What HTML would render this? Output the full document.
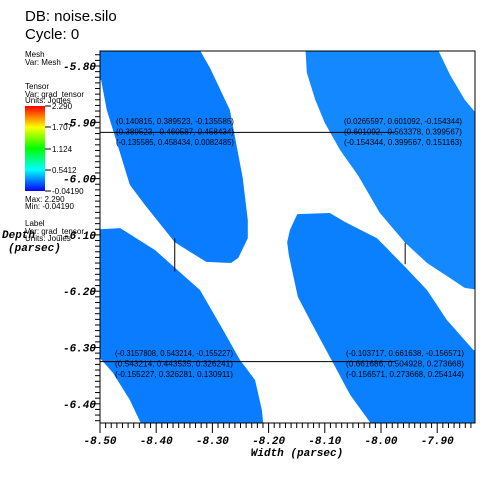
<!DOCTYPE html>
<html><head><meta charset="utf-8"><style>
html,body{margin:0;padding:0;background:#fff;}
svg{display:block;}
.lg{font-family:"Liberation Sans",sans-serif;font-size:8px;fill:#000;}
.tk{font-family:"Liberation Mono",monospace;font-size:11px;font-weight:bold;font-style:italic;fill:#000;}
.lab{font-family:"Liberation Sans",sans-serif;font-size:8.5px;fill:#000;}
</style></head><body>
<svg id="chart" width="500" height="500" viewBox="0 0 500 500">
<defs>
<clipPath id="clip"><rect x="100" y="51" width="375" height="372"/></clipPath>
<linearGradient id="cb" x1="0" y1="1" x2="0" y2="0">
<stop offset="0" stop-color="#0000ff"/><stop offset="0.25" stop-color="#00ffff"/>
<stop offset="0.5" stop-color="#00ff00"/><stop offset="0.75" stop-color="#ffff00"/>
<stop offset="1" stop-color="#ff0000"/></linearGradient>
</defs>
<text x="25" y="21" font-family="Liberation Sans,sans-serif" font-size="15">DB: noise.silo</text>
<text x="25" y="39" font-family="Liberation Sans,sans-serif" font-size="15">Cycle: 0</text>
<g>
<text class="lg" x="25" y="57">Mesh</text><text class="lg" x="25" y="65">Var: Mesh</text></g>
<g>
<text class="lg" x="25" y="89">Tensor</text><text class="lg" x="25" y="97">Var: grad_tensor</text><text class="lg" x="25" y="103">Units: Joules</text>
<rect x="25" y="106" width="20" height="85" fill="url(#cb)"/>
<g stroke="#000"><line x1="45" y1="106" x2="51" y2="106"/><line x1="45" y1="127" x2="51" y2="127"/><line x1="45" y1="149" x2="51" y2="149"/><line x1="45" y1="170" x2="51" y2="170"/><line x1="45" y1="191" x2="51" y2="191"/></g>
<text class="lg" x="52" y="109">2.290</text><text class="lg" x="52" y="130">1.707</text><text class="lg" x="52" y="152">1.124</text><text class="lg" x="52" y="173">0.5412</text><text class="lg" x="52" y="194">-0.04190</text>
<text class="lg" x="25" y="202">Max:  2.290</text><text class="lg" x="25" y="209">Min: -0.04190</text></g>
<g>
<text class="lg" x="25" y="226">Label</text><text class="lg" x="25" y="234">Var: grad_tensor</text><text class="lg" x="25" y="241">Units: Joules</text></g>
<g id="plot" clip-path="url(#clip)"></g>
<g id="axes"></g>
<g id="labels"></g>
<text class="tk" x="2" y="238">Depth</text>
<text class="tk" x="8" y="251">(parsec)</text>
<text class="tk" x="297" y="456" text-anchor="middle">Width (parsec)</text>
</svg>
<script>
const xTicks=[-8.5,-8.4,-8.3,-8.2,-8.1,-8.0,-7.9];
const xTickLabels=["-8.50","-8.40","-8.30","-8.20","-8.10","-8.00","-7.90"];
const yTicks=[-5.8,-5.9,-6.0,-6.1,-6.2,-6.3,-6.4];
const yTickLabels=["-5.80","-5.90","-6.00","-6.10","-6.20","-6.30","-6.40"];
const regionTopLeft=[[-8.52,-5.76],[-8.329,-5.76],[-8.304,-5.804],[-8.269,-5.878],[-8.246,-5.999],[-8.237,-6.074],[-8.237,-6.106],[-8.254,-6.141],[-8.267,-6.150],[-8.311,-6.148],[-8.367,-6.113],[-8.420,-6.047],[-8.447,-6.011],[-8.466,-5.949],[-8.488,-5.878],[-8.498,-5.825],[-8.52,-5.82]];
const regionBottomLeft=[[-8.52,-6.091],[-8.464,-6.088],[-8.402,-6.127],[-8.322,-6.198],[-8.281,-6.269],[-8.251,-6.322],[-8.224,-6.358],[-8.212,-6.411],[-8.208,-6.45],[-8.420,-6.45],[-8.447,-6.393],[-8.477,-6.345],[-8.52,-6.296]];
const regionTopRight=[[-8.135,-5.76],[-7.904,-5.76],[-7.877,-5.816],[-7.851,-5.860],[-7.824,-5.892],[-7.824,-6.198],[-7.851,-6.194],[-7.872,-6.180],[-7.918,-6.150],[-7.957,-6.114],[-8.002,-6.061],[-8.041,-5.994],[-8.073,-5.949],[-8.100,-5.901],[-8.117,-5.860],[-8.132,-5.812]];
const regionMiddle=[[-8.167,-6.113],[-8.162,-6.091],[-8.149,-6.063],[-8.091,-6.061],[-8.064,-6.077],[-8.007,-6.106],[-7.957,-6.157],[-7.918,-6.198],[-7.883,-6.251],[-7.836,-6.304],[-7.824,-6.308],[-7.824,-6.45],[-8.007,-6.45],[-8.055,-6.384],[-8.085,-6.328],[-8.117,-6.269],[-8.148,-6.210],[-8.164,-6.136]];
const pickX=[-8.367,-7.957];
const pickY=[-5.918,-6.325];
const pickSegTop=[[-6.106,-6.165],[-6.114,-6.152]];
const pickText=[
["(0.140815, 0.389523, -0.135585)","(0.389523, -0.460587, 0.458434)","(-0.135585, 0.458434, 0.0082485)"],
["(0.0265597, 0.601092, -0.154344)","(0.601092, -0.563378, 0.399567)","(-0.154344, 0.399567, 0.151163)"],
["(-0.3157808, 0.543214, -0.155227)","(0.543214, 0.443535, 0.326241)","(-0.155227, 0.326281, 0.130911)"],
["(-0.103717, 0.661638, -0.156571)","(0.661686, 0.504928, 0.273668)","(-0.156571, 0.273668, 0.254144)"]];
const X=v=>100+(v+8.5)*562;
const Y=v=>66-(v+5.8)*563;
const NS="http://www.w3.org/2000/svg";
function mk(t,a,p){const e=document.createElementNS(NS,t);for(const k in a)e.setAttribute(k,a[k]);p.appendChild(e);return e;}
const plot=document.getElementById('plot'),axes=document.getElementById('axes'),labels=document.getElementById('labels');
const regs=[[regionTopLeft,'#0a7cff','region-top-left'],[regionBottomLeft,'#0a7cff','region-bottom-left'],[regionTopRight,'#1489ff','region-top-right'],[regionMiddle,'#0a80ff','region-middle']];
regs.forEach(r=>{const p=mk('polygon',{points:r[0].map(q=>X(q[0])+','+Y(q[1])).join(' '),fill:r[1]},plot);

});
// pick lines
for(let j=0;j<2;j++){const l=mk('line',{x1:100,x2:X(pickX[1])-10,y1:Y(pickY[j]),y2:Y(pickY[j]),stroke:'#000','stroke-width':1},plot);

}
for(let i=0;i<2;i++){const l=mk('line',{x1:X(pickX[i]),x2:X(pickX[i]),y1:Y(pickSegTop[i][0]),y2:Y(pickSegTop[i][1]),stroke:'#000','stroke-width':1},plot);

}
const tpos=[[116,124],[344,124],[115,356],[346,356]];
pickText.forEach((lines,k)=>{const g=mk('g',{},labels);


lines.forEach((s,i)=>{const t=mk('text',{x:tpos[k][0],y:tpos[k][1]+i*10.5,class:'lab',textLength:118,lengthAdjust:'spacingAndGlyphs'},g);t.textContent=s;});});
// frame
const fr=mk('rect',{x:100,y:51,width:375,height:372,fill:'none',stroke:'#000','stroke-width':1},axes);


// minor ticks
for(let i=0;i<=66;i++){const v=-8.5+i*0.01;const x=X(v);if(x>475)break;const major=i%10===0;
mk('line',{x1:x,x2:x,y1:423,y2:423+(major?10:5),stroke:'#000'},axes);}
for(let i=-2;i<=64;i++){const v=-5.8-i*0.01;const y=Y(v);if(y<51||y>423)continue;const major=((i%10)+10)%10===0;
mk('line',{x1:100,x2:100-(major?9:5),y1:y,y2:y,stroke:'#000'},axes);}
xTicks.forEach((v,i)=>{const t=mk('text',{x:X(v),y:444,class:'tk','text-anchor':'middle'},axes);t.textContent=xTickLabels[i];

});
yTicks.forEach((v,i)=>{const t=mk('text',{x:96,y:Y(v)+4,class:'tk','text-anchor':'end'},axes);t.textContent=yTickLabels[i];

});
</script>
</body></html>
